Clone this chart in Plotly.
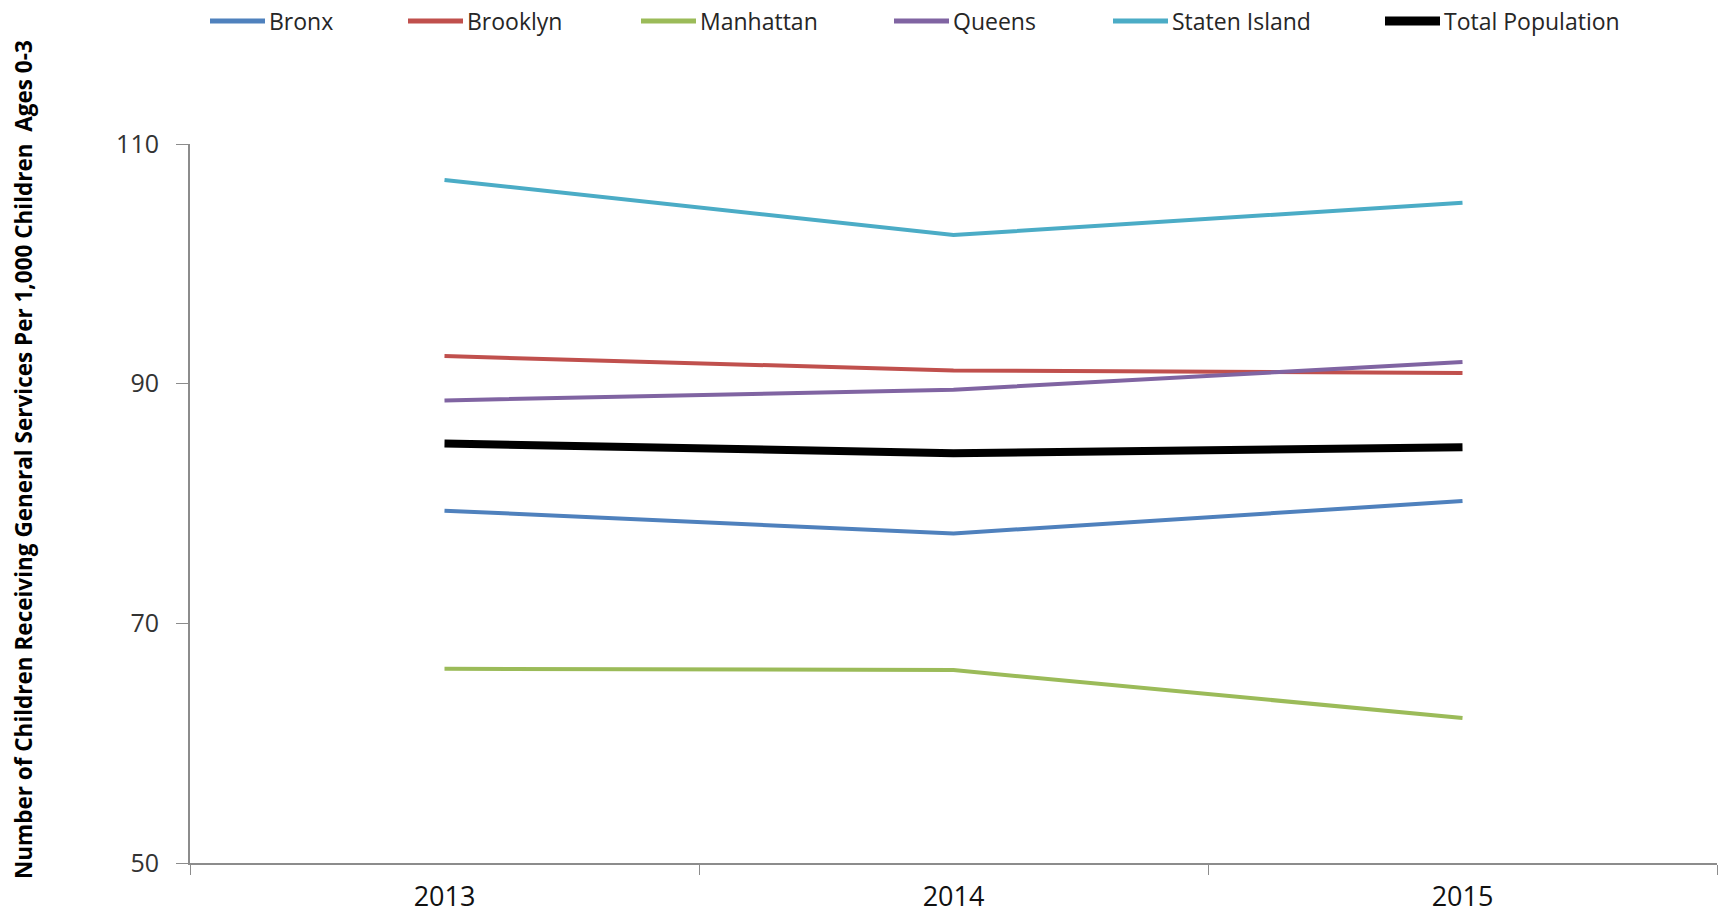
import plotly.graph_objects as go

# Rate of children (ages 0-3) receiving general services, per 1,000 children
years = ["2013", "2014", "2015"]
bronx = [79.4, 77.5, 80.2]
brooklyn = [92.3, 91.1, 90.9]
manhattan = [66.2, 66.1, 62.1]
queens = [88.6, 89.5, 91.8]
staten_island = [107.0, 102.4, 105.1]
total_population = [85.0, 84.2, 84.7]

series_names = ["Bronx", "Brooklyn", "Manhattan", "Queens", "Staten Island", "Total Population"]
series_values = [bronx, brooklyn, manhattan, queens, staten_island, total_population]
series_colors = ["#4F81BD", "#C0504D", "#9BBB59", "#8064A2", "#4BACC6", "#000000"]
series_widths = [4, 4, 4, 4, 4, 8]

y_ticks = [50, 70, 90, 110]

# Page geometry (pixels)
W, H = 1720, 920
M_L, M_R, M_T, M_B = 190, 3, 144, 57
PW = W - M_L - M_R
PH = H - M_T - M_B

# Legend entry start positions across the top (pixels)
legend_x = [210, 408, 641, 894, 1113, 1385]
legend_y = 21
swatch_len = 55

FONT = "Open Sans"
TEXT = "#262626"
AXIS = "#8c8c8c"


def px_x(px):
    return (px - M_L) / PW


def px_y(py):
    return (H - M_B - py) / PH


fig = go.Figure()
for name, vals, col, wd in zip(series_names, series_values, series_colors, series_widths):
    fig.add_trace(go.Scatter(
        x=years, y=vals, name=name, mode="lines",
        line=dict(color=col, width=wd),
        showlegend=False,
    ))

shapes = []
annotations = []
for name, col, wd, lx in zip(series_names, series_colors, series_widths, legend_x):
    shapes.append(dict(
        type="line", xref="paper", yref="paper",
        x0=px_x(lx), x1=px_x(lx + swatch_len),
        y0=px_y(legend_y), y1=px_y(legend_y),
        line=dict(color=col, width=wd + 1),
    ))
    annotations.append(dict(
        xref="paper", yref="paper",
        x=px_x(lx + swatch_len + 2), y=px_y(legend_y),
        xanchor="left", yanchor="middle",
        text=name, showarrow=False,
        font=dict(family=FONT, size=23, color=TEXT),
    ))

annotations.append(dict(
    xref="paper", yref="paper",
    x=px_x(24), y=px_y(460),
    xanchor="center", yanchor="middle",
    text="Number of Children Receiving General Services Per 1,000 Children\u00a0\u00a0Ages 0-3",
    textangle=-90, showarrow=False,
    font=dict(family=FONT, size=22.5, color="#000000", weight="bold"),
))

fig.update_layout(
    width=W, height=H,
    margin=dict(l=M_L, r=M_R, t=M_T, b=M_B, autoexpand=False),
    paper_bgcolor="white", plot_bgcolor="white",
    shapes=shapes, annotations=annotations,
    showlegend=False,
    xaxis=dict(
        type="category", range=[-0.5, 2.5],
        showline=True, linecolor=AXIS, linewidth=2,
        ticks="outside", tickson="boundaries", ticklen=10, tickcolor=AXIS, tickwidth=1,
        showgrid=False, zeroline=False, ticklabelstandoff=9,
        tickfont=dict(family=FONT, size=27, color="#111111"),
    ),
    yaxis=dict(
        range=[50, 110], tickvals=y_ticks,
        showline=True, linecolor=AXIS, linewidth=2,
        ticks="outside", ticklen=12, tickcolor=AXIS, tickwidth=1,
        showgrid=False, zeroline=False, ticklabelstandoff=12,
        tickfont=dict(family=FONT, size=25, color="#333333"),
    ),
)

fig.write_html("out.html")
